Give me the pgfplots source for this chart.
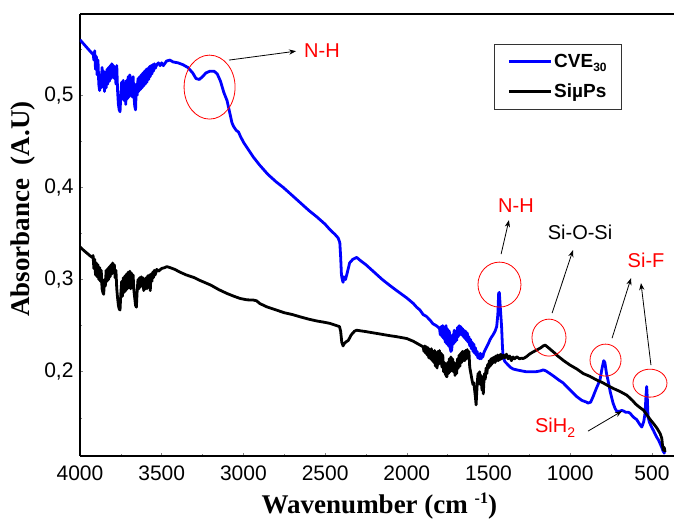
\documentclass[border=0pt]{standalone}
\usepackage{fontspec}
\setmainfont{Liberation Sans}
\newfontfamily\timesf{Liberation Serif}
\usepackage{pgfplots}
\pgfplotsset{compat=1.18}
\usetikzlibrary{arrows.meta}
\definecolor{cveblue}{RGB}{0,0,255}
\definecolor{annred}{RGB}{255,0,0}
\begin{document}
\begin{tikzpicture}
\begin{axis}[
  scale only axis, width=594pt, height=442pt,
  x dir=reverse, xmin=365, xmax=4000, ymin=0.1086, ymax=0.588,
  axis y line*=left, axis line style={-, line width=1.5pt},
  xtick pos=bottom, ytick pos=left,
  xtick={500,1000,1500,2000,2500,3000,3500,4000},
  minor xtick={750,1250,1750,2250,2750,3250,3750},
  ytick={0.2,0.3,0.4,0.5},
  minor ytick={0.15,0.25,0.35,0.45,0.55},
  tick align=inside, major tick length=3pt, minor tick length=2pt,
  tick style={line width=0.5pt, black!50},
  /pgf/number format/assume math mode=true,
  yticklabel style={/pgf/number format/fixed, /pgf/number format/fixed zerofill, /pgf/number format/precision=1, /pgf/number format/use comma, xshift=-3pt},
  xticklabel style={/pgf/number format/set thousands separator={}, yshift=-6pt},
  ticklabel style={font=\fontsize{21}{24}\selectfont},
  xlabel={\timesf\bfseries Wavenumber (cm {\fontsize{16}{16}\selectfont\raisebox{10pt}{-1}})},
  ylabel={\timesf\bfseries Absorbance\ \ (A.U)},
  xlabel style={font=\fontsize{27}{30}\selectfont, at={(axis description cs:0.504,-0.129)}, anchor=base},
  ylabel style={font=\fontsize{27}{30}\selectfont, at={(axis description cs:-0.096,0.559)}, anchor=center},
  legend style={at={(axis description cs:0.697,0.932)}, anchor=north west, draw=black!80, line width=0.8pt,
    font=\fontsize{19}{21}\selectfont\bfseries, inner xsep=13pt, inner ysep=8pt, row sep=11pt},
  legend cell align=left,
  legend image code/.code={\draw[#1, line width=2.8pt] (0pt,0pt) -- (42pt,0pt);},
]
\addplot[cveblue, line width=2.8pt, line join=round] coordinates {
(4000,0.560)(3980,0.556)(3960,0.552)(3940,0.548)(3925,0.545)
(3920,0.546)(3915,0.538)(3910,0.548)(3905,0.528)(3900,0.542)(3895,0.522)(3890,0.538)(3885,0.512)(3880,0.505)(3875,0.522)(3870,0.508)(3865,0.530)(3860,0.510)(3855,0.526)(3850,0.504)(3845,0.522)(3840,0.508)(3835,0.528)(3830,0.512)(3825,0.530)(3820,0.515)(3815,0.532)(3810,0.518)(3805,0.534)(3800,0.520)(3795,0.532)(3790,0.518)(3785,0.530)(3780,0.512)(3775,0.532)(3770,0.505)(3765,0.490)(3760,0.484)(3755,0.482)(3750,0.500)(3745,0.514)(3740,0.496)(3735,0.516)(3730,0.494)(3725,0.512)(3720,0.490)(3715,0.516)(3710,0.496)(3705,0.520)(3700,0.498)(3695,0.522)(3690,0.500)(3685,0.518)(3680,0.498)(3675,0.520)(3670,0.500)(3665,0.488)(3660,0.484)(3655,0.512)(3650,0.500)(3645,0.518)(3640,0.504)(3635,0.520)(3630,0.506)(3625,0.522)(3620,0.508)(3615,0.524)(3610,0.510)(3605,0.526)(3600,0.512)(3595,0.528)(3590,0.514)(3585,0.529)(3580,0.517)(3575,0.531)(3570,0.520)(3565,0.532)(3560,0.523)(3555,0.533)(3550,0.526)(3545,0.534)(3540,0.529)(3530,0.533)(3520,0.535)(3510,0.532)
(3500,0.535)(3490,0.532)(3470,0.537)(3450,0.538)(3430,0.536)(3400,0.535)(3370,0.533)(3340,0.530)(3310,0.524)(3290,0.518)(3270,0.517)(3250,0.520)(3230,0.524)(3205,0.526)(3180,0.526)(3160,0.523)(3140,0.515)(3120,0.503)(3100,0.494)(3085,0.482)(3070,0.470)(3060,0.466)(3045,0.462)(3030,0.460)(3020,0.456)(3000,0.449)(2970,0.441)(2940,0.433)(2900,0.424)(2850,0.414)(2800,0.406)(2757,0.400)(2700,0.391)(2650,0.383)(2600,0.375)(2551,0.368)(2500,0.360)(2470,0.354)(2440,0.349)(2420,0.345)(2410,0.340)(2405,0.325)(2400,0.305)(2395,0.300)(2390,0.297)(2385,0.303)(2375,0.300)(2365,0.307)(2350,0.318)(2330,0.322)(2307,0.324)(2280,0.320)(2250,0.316)(2200,0.308)(2150,0.300)(2100,0.293)(2062,0.288)(2000,0.280)(1960,0.274)(1940,0.270)(1920,0.267)(1900,0.262)(1880,0.260)(1858,0.256)(1840,0.252)(1820,0.250)
(1800,0.247)(1795,0.240)(1790,0.249)(1785,0.238)(1780,0.250)(1775,0.236)(1770,0.248)(1765,0.232)(1760,0.250)(1755,0.230)(1750,0.246)(1745,0.228)(1740,0.244)(1735,0.226)(1730,0.222)(1725,0.224)(1720,0.240)(1715,0.230)(1710,0.245)(1705,0.232)(1700,0.244)(1695,0.234)(1690,0.248)(1685,0.238)(1680,0.250)(1675,0.240)(1670,0.249)(1665,0.240)(1660,0.247)(1655,0.238)(1650,0.245)(1645,0.236)(1640,0.244)(1635,0.234)(1630,0.242)(1625,0.232)(1620,0.238)(1615,0.228)(1610,0.235)(1605,0.225)(1600,0.232)(1595,0.222)(1590,0.230)(1585,0.220)(1580,0.226)(1575,0.218)(1570,0.222)(1565,0.215)(1560,0.219)(1555,0.214)(1550,0.220)(1545,0.214)(1540,0.218)(1535,0.216)(1530,0.220)
(1520,0.224)(1511,0.227)(1500,0.231)(1490,0.235)(1480,0.238)(1472,0.240)(1460,0.244)(1450,0.249)(1443,0.262)(1438,0.285)(1434,0.286)(1428,0.270)(1420,0.249)(1415,0.228)(1411,0.216)(1400,0.211)(1389,0.209)(1378,0.207)(1368,0.205)(1350,0.203)(1327,0.202)(1300,0.201)(1270,0.200)(1246,0.200)(1210,0.200)(1180,0.201)(1166,0.202)(1150,0.201)(1124,0.198)(1100,0.195)(1070,0.191)(1044,0.188)(1000,0.180)(960,0.173)(930,0.169)(900,0.167)(891,0.166)(875,0.167)(860,0.173)(840,0.182)(818,0.191)(805,0.204)(795,0.212)(788,0.210)(778,0.198)(768,0.190)(755,0.178)(738,0.166)(725,0.160)(715,0.157)(700,0.157)(685,0.158)(675,0.1575)(660,0.156)(645,0.156)(634,0.155)(615,0.151)(593,0.148)(575,0.143)(562,0.140)(550,0.146)(542,0.155)(536,0.175)(532,0.184)(528,0.170)(524,0.151)(515,0.145)(502,0.140)(490,0.136)(471,0.129)(460,0.126)(450,0.122)(440,0.118)(432,0.114)(425,0.112)(420,0.111)
};
\addlegendentry{CVE{\fontsize{12}{12}\selectfont\raisebox{-4pt}{30}}}
\addplot[black, line width=2.8pt, line join=round] coordinates {
(4000,0.3355)(3980,0.332)(3960,0.329)(3940,0.326)
(3925,0.324)(3920,0.326)(3915,0.312)(3910,0.322)(3905,0.305)(3900,0.318)(3895,0.303)(3890,0.316)(3885,0.300)(3880,0.313)(3875,0.298)(3870,0.310)(3865,0.290)(3860,0.286)(3855,0.284)(3850,0.300)(3845,0.293)(3840,0.310)(3835,0.298)(3830,0.312)(3825,0.300)(3820,0.314)(3815,0.303)(3810,0.316)(3805,0.306)(3800,0.318)(3795,0.308)(3790,0.316)(3785,0.302)(3780,0.310)(3775,0.290)(3770,0.280)(3765,0.272)(3760,0.268)(3755,0.267)(3750,0.285)(3745,0.298)(3740,0.282)(3735,0.302)(3730,0.286)(3725,0.304)(3720,0.288)(3715,0.306)(3710,0.290)(3705,0.308)(3700,0.292)(3695,0.309)(3690,0.290)(3685,0.307)(3680,0.292)(3675,0.305)(3670,0.288)(3665,0.280)(3660,0.272)(3655,0.270)(3650,0.288)(3645,0.300)(3640,0.290)(3635,0.302)(3630,0.292)(3625,0.303)(3620,0.294)(3615,0.302)(3610,0.288)(3605,0.300)(3600,0.290)(3595,0.302)(3590,0.290)(3585,0.304)(3580,0.292)(3575,0.305)(3570,0.288)(3565,0.306)(3560,0.298)(3555,0.308)(3550,0.302)(3545,0.310)(3540,0.305)(3530,0.311)(3520,0.309)
(3500,0.312)(3480,0.313)(3469,0.314)(3450,0.313)(3420,0.311)(3388,0.308)(3350,0.305)(3300,0.302)(3266,0.299)(3200,0.294)(3150,0.289)(3102,0.285)(3060,0.282)(3021,0.2795)(2980,0.278)(2939,0.2777)(2920,0.277)(2900,0.274)(2857,0.2704)(2800,0.267)(2750,0.264)(2700,0.262)(2654,0.2596)(2600,0.257)(2550,0.255)(2500,0.2535)(2470,0.2524)(2430,0.250)(2412,0.249)(2405,0.244)(2398,0.232)(2390,0.228)(2385,0.230)(2375,0.232)(2358,0.234)(2340,0.240)(2320,0.244)(2307,0.245)(2250,0.2435)(2200,0.242)(2150,0.2405)(2100,0.239)(2062,0.238)(2000,0.236)(1960,0.233)(1930,0.230)
(1900,0.227)(1895,0.222)(1890,0.228)(1885,0.220)(1880,0.227)(1875,0.218)(1870,0.226)(1865,0.215)(1860,0.224)(1855,0.214)(1850,0.225)(1845,0.212)(1840,0.222)(1835,0.210)(1830,0.223)(1825,0.206)(1820,0.220)(1815,0.204)(1810,0.222)(1805,0.208)(1800,0.223)(1795,0.210)(1790,0.220)(1785,0.205)(1780,0.218)(1775,0.200)(1770,0.210)(1765,0.198)(1760,0.196)(1755,0.1945)(1750,0.210)(1745,0.198)(1740,0.214)(1735,0.200)(1730,0.216)(1725,0.204)(1720,0.214)(1715,0.200)(1710,0.210)(1705,0.196)(1700,0.208)(1695,0.198)(1690,0.214)(1685,0.204)(1680,0.218)(1675,0.206)(1670,0.220)(1665,0.210)(1660,0.222)(1655,0.212)(1650,0.222)(1645,0.212)(1640,0.223)(1635,0.214)(1630,0.224)(1625,0.215)(1620,0.222)(1615,0.205)(1610,0.200)(1605,0.195)(1600,0.190)(1595,0.186)(1590,0.188)(1585,0.180)(1580,0.172)(1576,0.164)(1572,0.178)(1568,0.190)(1564,0.198)(1560,0.190)(1555,0.200)(1550,0.186)(1545,0.196)(1540,0.180)(1535,0.190)(1532,0.176)(1528,0.190)(1524,0.198)(1520,0.192)(1515,0.204)(1510,0.198)(1505,0.208)(1500,0.204)(1495,0.212)(1490,0.206)(1485,0.214)(1480,0.208)(1475,0.215)(1470,0.210)(1465,0.216)(1460,0.210)(1455,0.217)(1450,0.212)(1445,0.218)(1440,0.212)(1435,0.218)(1430,0.213)(1425,0.219)(1420,0.214)
(1409,0.218)(1400,0.215)(1390,0.219)(1380,0.214)(1370,0.217)(1360,0.212)(1350,0.216)(1340,0.214)(1327,0.2162)(1310,0.214)(1300,0.2146)(1287,0.2144)(1270,0.216)(1250,0.219)(1226,0.2216)(1200,0.224)(1180,0.226)(1165,0.228)(1154,0.2289)(1140,0.227)(1120,0.224)(1100,0.221)(1083,0.218)(1040,0.212)(1001,0.2072)(960,0.203)(920,0.198)(880,0.195)(838,0.191)(800,0.188)(770,0.185)(736,0.1818)(700,0.179)(654,0.1746)(620,0.169)(600,0.165)(580,0.162)(565,0.160)(552,0.1584)(530,0.153)(510,0.148)(491,0.1439)(470,0.139)(460,0.136)(450,0.133)(440,0.128)(435,0.120)(430,0.115)(425,0.118)(420,0.113)
};
\addlegendentry{Si\textmu Ps}
% annotations
\draw[annred, line width=0.8pt] (axis cs:3207,0.5087) ellipse [x radius=25.5pt, y radius=32pt];
\draw[-{Stealth[length=7pt]}, line width=0.8pt] (axis cs:3088,0.538) -- (axis cs:2678,0.5477);
\node[annred, font=\fontsize{20}{24}\selectfont] at (axis cs:2519,0.5488) {N-H};
\draw[annred, line width=0.8pt] (axis cs:1433,0.2945) ellipse [x radius=21.5pt, y radius=22.5pt];
\draw[-{Stealth[length=7pt]}, line width=0.8pt] (axis cs:1423,0.3276) -- (axis cs:1375,0.3644);
\node[annred, font=\fontsize{20}{24}\selectfont] at (axis cs:1332,0.3807) {N-H};
\node[black, font=\fontsize{20}{24}\selectfont] at (axis cs:940,0.3514) {Si-O-Si};
\draw[annred, line width=0.8pt] (axis cs:1130,0.237) ellipse [x radius=17pt, y radius=18.5pt];
\draw[-{Stealth[length=7pt]}, line width=0.8pt] (axis cs:1111,0.2636) -- (axis cs:983,0.3319);
\draw[annred, line width=0.8pt] (axis cs:784,0.2126) ellipse [x radius=15.5pt, y radius=16pt];
\draw[-{Stealth[length=7pt]}, line width=0.8pt] (axis cs:744,0.2364) -- (axis cs:628,0.3015);
\draw[annred, line width=0.8pt] (axis cs:512,0.1876) ellipse [x radius=17pt, y radius=14pt];
\draw[-{Stealth[length=7pt]}, line width=0.8pt] (axis cs:506,0.2072) -- (axis cs:567,0.2961);
\node[annred, font=\fontsize{20}{24}\selectfont] at (axis cs:536,0.321) {Si-F};
\node[annred, font=\fontsize{20}{24}\selectfont] at (axis cs:1093,0.1388) {SiH{\fontsize{14}{14}\selectfont\raisebox{-5pt}{2}}};
\draw[-{Stealth[length=7pt]}, line width=0.8pt] (axis cs:891,0.1356) -- (axis cs:683,0.1573);
\end{axis}
\pgfresetboundingbox
\path[use as bounding box] ([xshift=-80pt,yshift=-67pt]current axis.south west) rectangle ([yshift=14pt]current axis.north east);
\end{tikzpicture}
\end{document}
